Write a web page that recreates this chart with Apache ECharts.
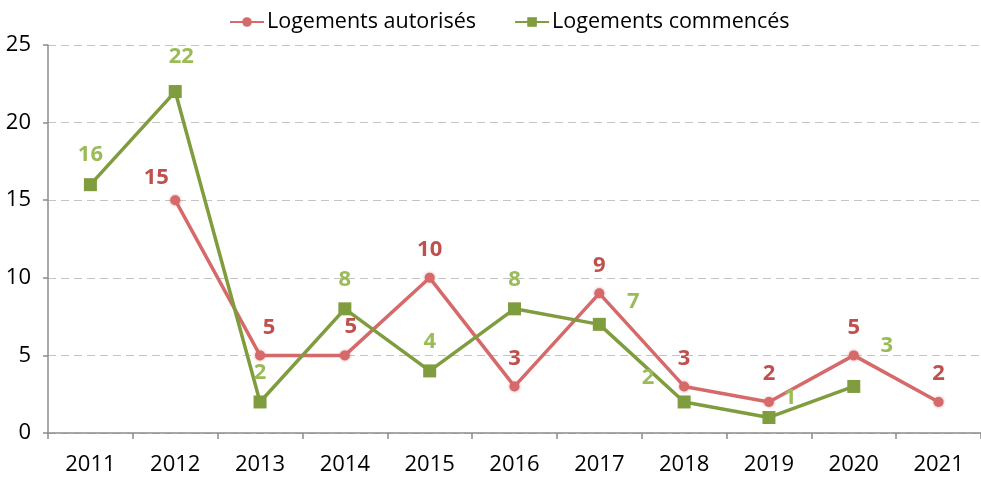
<!DOCTYPE html>
<html>
<head>
<meta charset="utf-8">
<script src="https://cdn.jsdelivr.net/npm/echarts@6/dist/echarts.min.js"></script>
<style>
  html, body { margin: 0; padding: 0; background: #fff; }
  #chart { width: 981px; height: 477px; }
</style>
</head>
<body>
<div id="chart"></div>
<script>
// Years on the horizontal axis
const years = ['2011', '2012', '2013', '2014', '2015', '2016', '2017', '2018', '2019', '2020', '2021'];

// Housing units authorised per year (no figure for 2011)
const autorises = [null, 15, 5, 5, 10, 3, 9, 3, 2, 5, 2];

// Housing units started per year (no figure for 2021)
const commences = [16, 22, 2, 8, 4, 8, 7, 2, 1, 3, null];

// Vertical axis range
const yMin = 0, yMax = 25, yStep = 5;

// Per-point label nudges so the numbers do not overlap the lines
const offsetsAutorises = [null, [-19, 6], [9, 0], [6, -1], [0, 0], [0, 0], [0, 0], [0, 0], [0, 0], [0, 0], [0, 0]];
const offsetsCommences = [[0, 0], [6, -5], [0, 0], [0, 0], [0, 0], [0, 0], [34, 7], [-36, 5], [21, 10], [33, -11], null];

const FONT = 'Open Sans';
const RED_LINE = '#D6696A';
const RED_TEXT = '#C0504D';
const GREEN_LINE = '#7F9C3E';
const GREEN_TEXT = '#9BBB59';

function points(values, offsets) {
  return values.map((v, i) => {
    if (v === null) return '-';
    return { value: v, label: { offset: offsets[i] } };
  });
}

const chart = echarts.init(document.getElementById('chart'), null, { renderer: 'canvas' });

chart.setOption({
  animation: false,
  textStyle: { fontFamily: FONT },
  legend: {
    top: 6,
    left: 224,
    itemWidth: 34,
    itemHeight: 12,
    itemGap: 38,
    textStyle: { fontFamily: FONT, fontSize: 21.5, color: '#000', padding: [0, 0, 0, -2] },
    data: ['Logements autorisés', 'Logements commencés']
  },
  grid: { left: 48, right: 0, top: 45, bottom: 44, containLabel: false },
  xAxis: {
    type: 'category',
    data: years,
    boundaryGap: true,
    axisLine: { lineStyle: { color: '#8C8C8C', width: 1.5 } },
    axisTick: { show: true, length: 6, alignWithLabel: false, lineStyle: { color: '#8C8C8C', width: 1.5 } },
    axisLabel: { color: '#000', fontSize: 22, fontFamily: FONT, margin: 21 }
  },
  yAxis: {
    type: 'value',
    min: yMin,
    max: yMax,
    interval: yStep,
    axisLine: { show: true, lineStyle: { color: '#8C8C8C', width: 1.5 } },
    axisTick: { show: true, length: 5, lineStyle: { color: '#8C8C8C', width: 1.5 } },
    axisLabel: { color: '#000', fontSize: 22, fontFamily: FONT, margin: 17 },
    splitLine: { show: true, lineStyle: { color: '#C4C4C4', type: [8, 5], width: 1.2 } }
  },
  series: [
    {
      name: 'Logements autorisés',
      type: 'line',
      data: points(autorises, offsetsAutorises),
      connectNulls: false,
      symbol: 'circle',
      symbolSize: 10,
      lineStyle: { color: RED_LINE, width: 3.5 },
      itemStyle: { color: RED_LINE, shadowColor: 'rgba(214,105,106,0.7)', shadowBlur: 3 },
      label: {
        show: true,
        position: 'top',
        distance: 12,
        color: RED_TEXT,
        fontWeight: 'bold',
        fontSize: 22,
        fontFamily: FONT
      },
      z: 2
    },
    {
      name: 'Logements commencés',
      type: 'line',
      data: points(commences, offsetsCommences),
      connectNulls: false,
      symbol: 'rect',
      symbolSize: 13,
      lineStyle: { color: GREEN_LINE, width: 3.5 },
      itemStyle: { color: GREEN_LINE },
      label: {
        show: true,
        position: 'top',
        distance: 12,
        color: GREEN_TEXT,
        fontWeight: 'bold',
        fontSize: 22,
        fontFamily: FONT
      },
      z: 3
    }
  ]
});
</script>
</body>
</html>
